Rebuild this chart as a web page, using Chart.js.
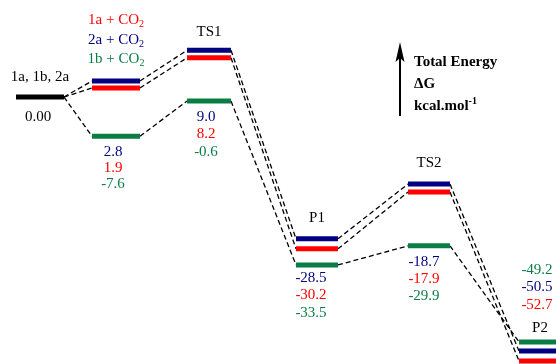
<!DOCTYPE html>
<html>
<head>
<meta charset="utf-8">
<script src="https://cdn.jsdelivr.net/npm/chart.js@4.4.0/dist/chart.umd.min.js"></script>
<style>
    body { margin: 0; background: #fff; }
    #wrap { width: 556px; height: 364px; }
</style>
</head>
<body>
<div id="wrap"><canvas id="energyChart"></canvas></div>
<script>
// Data //
const stageNames = ['1a, 1b, 2a', '', 'TS1', 'P1', 'TS2', 'P2'];
const stageX = [0.40, 1.16, 2.09, 3.17, 4.29, 5.40]; // reaction coordinate

// level of each bar as drawn in the figure (kcal/mol)
const blueLevel = [0, 3.2, 9.3, -28.2, -17.3, -50.5];
const redLevel = [0, 1.8, 7.8, -30.2, -18.9, -52.5];
const greenLevel = [0, -7.8, -0.8, -33.4, -29.6, -48.7];

// printed values
const blueText = ['', '2.8', '9.0', '-28.5', '-18.7', '-50.5'];
const redText = ['', '1.9', '8.2', '-30.2', '-17.9', '-52.7'];
const greenText = ['', '-7.6', '-0.6', '-33.5', '-29.9', '-49.2'];

const BLUE = '#000080';
const RED = '#ff0000';
const GREEN = '#0a7d45';
const halfW = [0.24, 0.24, 0.22, 0.21, 0.21, 0.21];

const series = [
    { level: blueLevel, text: blueText, color: BLUE },
    { level: redLevel, text: redText, color: RED },
    { level: greenLevel, text: greenText, color: GREEN }
];

const datasets = [];
series.forEach(s => {
    // bars
    const bars = [];
    for (let i = 1; i < stageX.length; i++) {
        bars.push({ x: stageX[i] - halfW[i], y: s.level[i] });
        bars.push({ x: stageX[i] + halfW[i], y: s.level[i] });
        bars.push({ x: stageX[i] + halfW[i], y: null });
    }
    datasets.push({ data: bars, borderColor: s.color, borderWidth: 5, order: 0 });

    // dashed connectors
    const links = [];
    for (let i = 0; i < stageX.length - 1; i++) {
        links.push({ x: stageX[i] + halfW[i], y: s.level[i] });
        links.push({ x: stageX[i + 1] - halfW[i + 1], y: s.level[i + 1] });
        links.push({ x: stageX[i + 1] - halfW[i + 1], y: null });
    }
    datasets.push({ data: links, borderColor: '#000', borderWidth: 1.3, borderDash: [5, 3], order: 1 });
});
// reactant bar
datasets.push({
    data: [{ x: stageX[0] - halfW[0], y: blueLevel[0] }, { x: stageX[0] + halfW[0], y: blueLevel[0] }],
    borderColor: '#000', borderWidth: 5, order: 0
});
datasets.forEach(d => {
    d.showLine = true;
    d.pointRadius = 0;
    d.spanGaps = false;
    d.fill = false;
});

// text with sub/superscript pieces
function drawParts(ctx, parts, x, y, align, bold, color) {
    const w = bold ? 'bold ' : '';
    let total = 0;
    parts.forEach(p => {
        ctx.font = w + p.size + 'px "Liberation Serif"';
        p.w = ctx.measureText(p.t).width;
        total += p.w;
    });
    let cx = align === 'center' ? x - total / 2 : x;
    ctx.fillStyle = color;
    ctx.textAlign = 'left';
    ctx.textBaseline = 'middle';
    parts.forEach(p => {
        ctx.font = w + p.size + 'px "Liberation Serif"';
        ctx.fillText(p.t, cx, y + (p.dy || 0));
        cx += p.w;
    });
}

const textPlugin = {
    id: 'energyText',
    afterDatasetsDraw(chart) {
        const { ctx, chartArea, scales: { x, y } } = chart;
        ctx.save();

        // stage names above the top bar
        const nameDy = [-20, 0, -18, -21, -21, -14];
        stageNames.forEach((name, i) => {
            if (!name) return;
            const top = Math.max(blueLevel[i], redLevel[i], greenLevel[i]);
            drawParts(ctx, [{ t: name, size: 15 }], x.getPixelForValue(stageX[i]), y.getPixelForValue(top) + nameDy[i], 'center', false, '#000');
        });
        drawParts(ctx, [{ t: '0.00', size: 15 }], x.getPixelForValue(stageX[0]) - 2, y.getPixelForValue(0) + 20, 'center', false, '#000');

        // reactant + CO2 captions
        const iTop = y.getPixelForValue(blueLevel[1]);
        const capX = x.getPixelForValue(stageX[1]);
        [['1a', RED, -61], ['2a', BLUE, -41], ['1b', GREEN, -22]].forEach(c => {
            drawParts(ctx, [{ t: c[0] + ' + CO', size: 15 }, { t: '2', size: 10, dy: 4 }], capX, iTop + c[2], 'center', false, c[1]);
        });

        // value labels
        const valDx = [0, -3, -3, -6, -5, -3];
        const valDy = [0, 16, 16, 13, 16, -72];
        const gap = [0, 16, 17.5, 17.5, 17, 17.5];
        const p2Order = [2, 0, 1]; // green, blue, red above P2
        for (let i = 1; i < stageX.length; i++) {
            const base = y.getPixelForValue(greenLevel[i]) + valDy[i];
            const order = i === 5 ? p2Order : [0, 1, 2];
            order.forEach((k, j) => {
                const s = series[k];
                drawParts(ctx, [{ t: s.text[i], size: 15 }], x.getPixelForValue(stageX[i]) + valDx[i], base + j * gap[i], 'center', false, s.color);
            });
        }

        // energy arrow
        const ax = chartArea.left + 400;
        ctx.strokeStyle = '#000';
        ctx.lineWidth = 2;
        ctx.beginPath();
        ctx.moveTo(ax, chartArea.top + 116);
        ctx.lineTo(ax, chartArea.top + 55);
        ctx.stroke();
        ctx.fillStyle = '#000';
        ctx.beginPath();
        ctx.moveTo(ax, chartArea.top + 42);
        ctx.lineTo(ax - 4.5, chartArea.top + 62);
        ctx.lineTo(ax, chartArea.top + 58);
        ctx.lineTo(ax + 4.5, chartArea.top + 62);
        ctx.closePath();
        ctx.fill();

        const tx = chartArea.left + 414;
        drawParts(ctx, [{ t: 'Total Energy', size: 15 }], tx, chartArea.top + 62, 'left', true, '#000');
        drawParts(ctx, [{ t: '\u0394G', size: 15 }], tx, chartArea.top + 84, 'left', true, '#000');
        drawParts(ctx, [{ t: 'kcal.mol', size: 15 }, { t: '-1', size: 10, dy: -5 }], tx, chartArea.top + 106, 'left', true, '#000');

        ctx.restore();
    }
};

// Energy profile //
document.addEventListener('DOMContentLoaded', () => {
    const ctx = document.getElementById('energyChart').getContext('2d');
    const energyChart = new Chart(ctx, {
        type: 'scatter',
        data: { datasets: datasets },
        options: {
            responsive: true,
            maintainAspectRatio: false,
            animation: false,
            events: [],
            layout: { padding: 0 },
            plugins: {
                legend: { display: false },
                tooltip: { enabled: false }
            },
            scales: {
                x: { type: 'linear', min: 0, max: 5.56, display: false },
                y: { type: 'linear', min: -53.1, max: 19.3, display: false }
            }
        },
        plugins: [textPlugin]
    });
});
</script>
</body>
</html>
